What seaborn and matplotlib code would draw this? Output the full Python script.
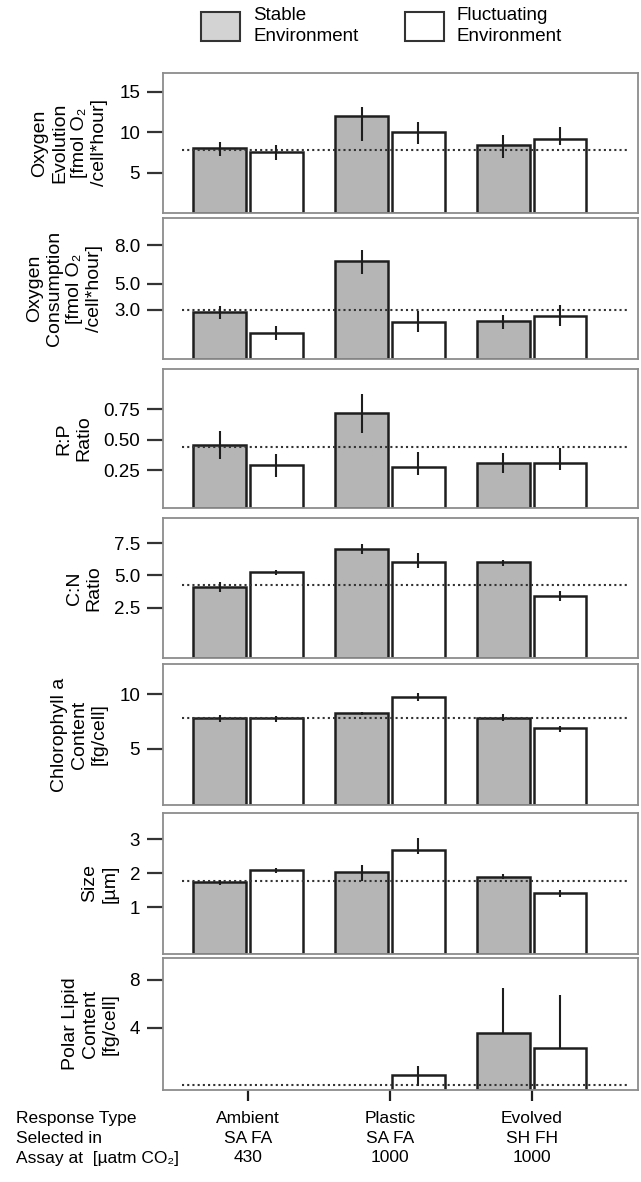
import matplotlib
matplotlib.use("Agg")
import matplotlib.pyplot as plt
from matplotlib.patches import Patch
import numpy as np
import pandas as pd
import seaborn as sns

plt.rcParams['font.family'] = ['Liberation Sans', 'DejaVu Sans']

nan = np.nan

# categories
responses = ["Ambient", "Plastic", "Evolved"]
response_labels = ["Ambient\nSA FA\n430", "Plastic\nSA FA\n1000", "Evolved\nSH FH\n1000"]
environments = ["Stable", "Fluctuating"]
legend_labels = ["Stable\nEnvironment", "Fluctuating\nEnvironment"]

# oxygen evolution
evo_stable = [8.0, 12.0, 8.35]
evo_stable_err = [(7.04, 8.76), (8.92, 13.04), (6.76, 9.70)]
evo_fluct = [7.53, 10.0, 9.2]
evo_fluct_err = [(6.55, 8.39), (8.57, 11.2), (8.39, 10.6)]
evo_ref = 7.8

# oxygen consumption
cons_stable = [2.80, 6.74, 2.10]
cons_stable_err = [(2.25, 3.24), (5.78, 7.59), (1.48, 2.56)]
cons_fluct = [1.22, 2.05, 2.54]
cons_fluct_err = [(0.65, 1.76), (1.30, 2.90), (1.74, 3.37)]
cons_ref = 2.95

# R:P ratio
rp_stable = [0.459, 0.719, 0.309]
rp_stable_err = [(0.342, 0.568), (0.555, 0.874), (0.227, 0.391)]
rp_fluct = [0.29, 0.273, 0.309]
rp_fluct_err = [(0.191, 0.383), (0.208, 0.396), (0.249, 0.432)]
rp_ref = 0.44

# C:N ratio
cn_stable = [4.09, 7.07, 6.01]
cn_stable_err = [(3.68, 4.46), (6.68, 7.41), (5.75, 6.22)]
cn_fluct = [5.26, 6.04, 3.42]
cn_fluct_err = [(5.05, 5.44), (5.57, 6.74), (3.03, 3.76)]
cn_ref = 4.22

# chlorophyll a
chl_stable = [7.79, 8.25, 7.85]
chl_stable_err = [(7.45, 8.07), (8.07, 8.40), (7.58, 8.19)]
chl_fluct = [7.79, 9.79, 6.87]
chl_fluct_err = [(7.48, 8.04), (9.42, 10.15), (6.56, 7.09)]
chl_ref = 7.8

# cell size
size_stable = [1.75, 2.04, 1.90]
size_stable_err = [(1.66, 1.80), (1.78, 2.24), (1.82, 1.98)]
size_fluct = [2.10, 2.69, 1.42]
size_fluct_err = [(2.02, 2.17), (2.56, 3.05), (1.31, 1.51)]
size_ref = 1.78

# polar lipids
lip_stable = [nan, nan, 3.52]
lip_stable_err = [(nan, nan), (nan, nan), (3.52, 7.3)]
lip_fluct = [nan, 0.03, 2.27]
lip_fluct_err = [(nan, nan), (-0.9, 0.78), (2.27, 6.74)]
lip_ref = -0.81

panels = [
    dict(label="Oxygen\nEvolution\n[fmol O₂\n/cell*hour]", stable=evo_stable, stable_err=evo_stable_err,
         fluct=evo_fluct, fluct_err=evo_fluct_err, ref=evo_ref, ylim=(0, 17.3),
         ticks=[5, 10, 15], ticklabels=["5", "10", "15"]),
    dict(label="Oxygen\nConsumption\n[fmol O₂\n/cell*hour]", stable=cons_stable, stable_err=cons_stable_err,
         fluct=cons_fluct, fluct_err=cons_fluct_err, ref=cons_ref, ylim=(-0.83, 10.1),
         ticks=[3, 5, 8], ticklabels=["3.0", "5.0", "8.0"]),
    dict(label="R:P\nRatio", stable=rp_stable, stable_err=rp_stable_err,
         fluct=rp_fluct, fluct_err=rp_fluct_err, ref=rp_ref, ylim=(-0.06, 1.08),
         ticks=[0.25, 0.5, 0.75], ticklabels=["0.25", "0.50", "0.75"]),
    dict(label="C:N\nRatio", stable=cn_stable, stable_err=cn_stable_err,
         fluct=cn_fluct, fluct_err=cn_fluct_err, ref=cn_ref, ylim=(-1.42, 9.46),
         ticks=[2.5, 5.0, 7.5], ticklabels=["2.5", "5.0", "7.5"]),
    dict(label="Chlorophyll a\nContent\n[fg/cell]", stable=chl_stable, stable_err=chl_stable_err,
         fluct=chl_fluct, fluct_err=chl_fluct_err, ref=chl_ref, ylim=(-0.18, 12.8),
         ticks=[5, 10], ticklabels=["5", "10"]),
    dict(label="Size\n[µm]", stable=size_stable, stable_err=size_stable_err,
         fluct=size_fluct, fluct_err=size_fluct_err, ref=size_ref, ylim=(-0.385, 3.78),
         ticks=[1, 2, 3], ticklabels=["1", "2", "3"]),
    dict(label="Polar Lipid\nContent\n[fg/cell]", stable=lip_stable, stable_err=lip_stable_err,
         fluct=lip_fluct, fluct_err=lip_fluct_err, ref=lip_ref, ylim=(-1.23, 9.82),
         ticks=[4, 8], ticklabels=["4", "8"]),
]

# layout in pixels (top, bottom) of each panel
W, H = 641, 1182
panel_px = [(73, 213), (218, 359), (369, 508), (518, 658), (664, 805), (813, 954), (958, 1090)]
ax_left, ax_right = 163, 638

bar_colors = {"Stable": "#b5b5b5", "Fluctuating": "white"}
dark = "#1e1e1e"

fig = plt.figure(figsize=(W / 100, H / 100), dpi=100)

for k, pnl in enumerate(panels):
    top, bot = panel_px[k]
    ax = fig.add_axes([ax_left / W, 1 - bot / H, (ax_right - ax_left) / W, (bot - top) / H])
    df = pd.DataFrame({
        "response": responses * 2,
        "env": [environments[0]] * 3 + [environments[1]] * 3,
        "value": list(pnl["stable"]) + list(pnl["fluct"]),
    })
    sns.barplot(data=df, x="response", y="value", hue="env", order=responses,
                hue_order=environments, palette=bar_colors, saturation=1,
                edgecolor=dark, linewidth=1.8, gap=0.07, errorbar=None,
                legend=False, ax=ax, zorder=2)
    ylo = pnl["ylim"][0]
    ends = {environments[0]: pnl["stable_err"], environments[1]: pnl["fluct_err"]}
    for p in list(ax.patches):
        h = p.get_height()
        if not np.isfinite(h):
            continue
        cx = p.get_x() + p.get_width() / 2
        i = int(round(cx))
        env = environments[0] if cx < i else environments[1]
        # bars run down to the bottom of the frame, as in the original
        p.set_y(ylo)
        p.set_height(h - ylo)
        e0, e1 = ends[env][i]
        ax.vlines(cx, e0, e1, color=dark, lw=1.5, zorder=5)

    ax.axhline(pnl["ref"], xmin=0.04, xmax=0.98, color="#333333", lw=1.5,
               ls=(0, (1, 1.5)), zorder=4)

    ax.set_xlim(-0.6, 2.75)
    ax.set_ylim(*pnl["ylim"])
    ax.set_yticks(pnl["ticks"])
    ax.set_yticklabels(pnl["ticklabels"])
    ax.tick_params(axis="y", length=11.5, width=1.6, color="#333333", pad=5, labelsize=13.5)
    ax.set_ylabel(pnl["label"], fontsize=14, linespacing=1.22, labelpad=8)
    ax.set_xlabel("")
    for s in ax.spines.values():
        s.set_color("#8c8c8c")
        s.set_linewidth(1.3)

    if k < len(panels) - 1:
        ax.set_xticks([])
    else:
        ax.set_xticks(ax.get_xticks())
        ax.set_xticklabels(response_labels)
        ax.tick_params(axis="x", length=8, width=1.6, color=dark, pad=7, labelsize=12.5)
        for t in ax.get_xticklabels():
            t.set_linespacing(1.4)

fig.text(16 / W, 1 - 1111 / H, "Response Type\nSelected in\nAssay at  [µatm CO₂]",
         ha="left", va="top", fontsize=12.5, linespacing=1.4)

handles = [Patch(facecolor="#d3d3d3", edgecolor="#333333", lw=1.5, label=legend_labels[0]),
           Patch(facecolor="white", edgecolor="#333333", lw=1.5, label=legend_labels[1])]
leg = fig.legend(handles=handles, loc="upper left", bbox_to_anchor=(198 / W, 1 - 4 / H), ncol=2,
                 frameon=False, fontsize=13.5, handlelength=2.1, handleheight=2.05,
                 handletextpad=0.7, columnspacing=2.45, borderaxespad=0, borderpad=0.15)
for t in leg.get_texts():
    t.set_linespacing(1.35)

fig.savefig("out.png", dpi=100)
